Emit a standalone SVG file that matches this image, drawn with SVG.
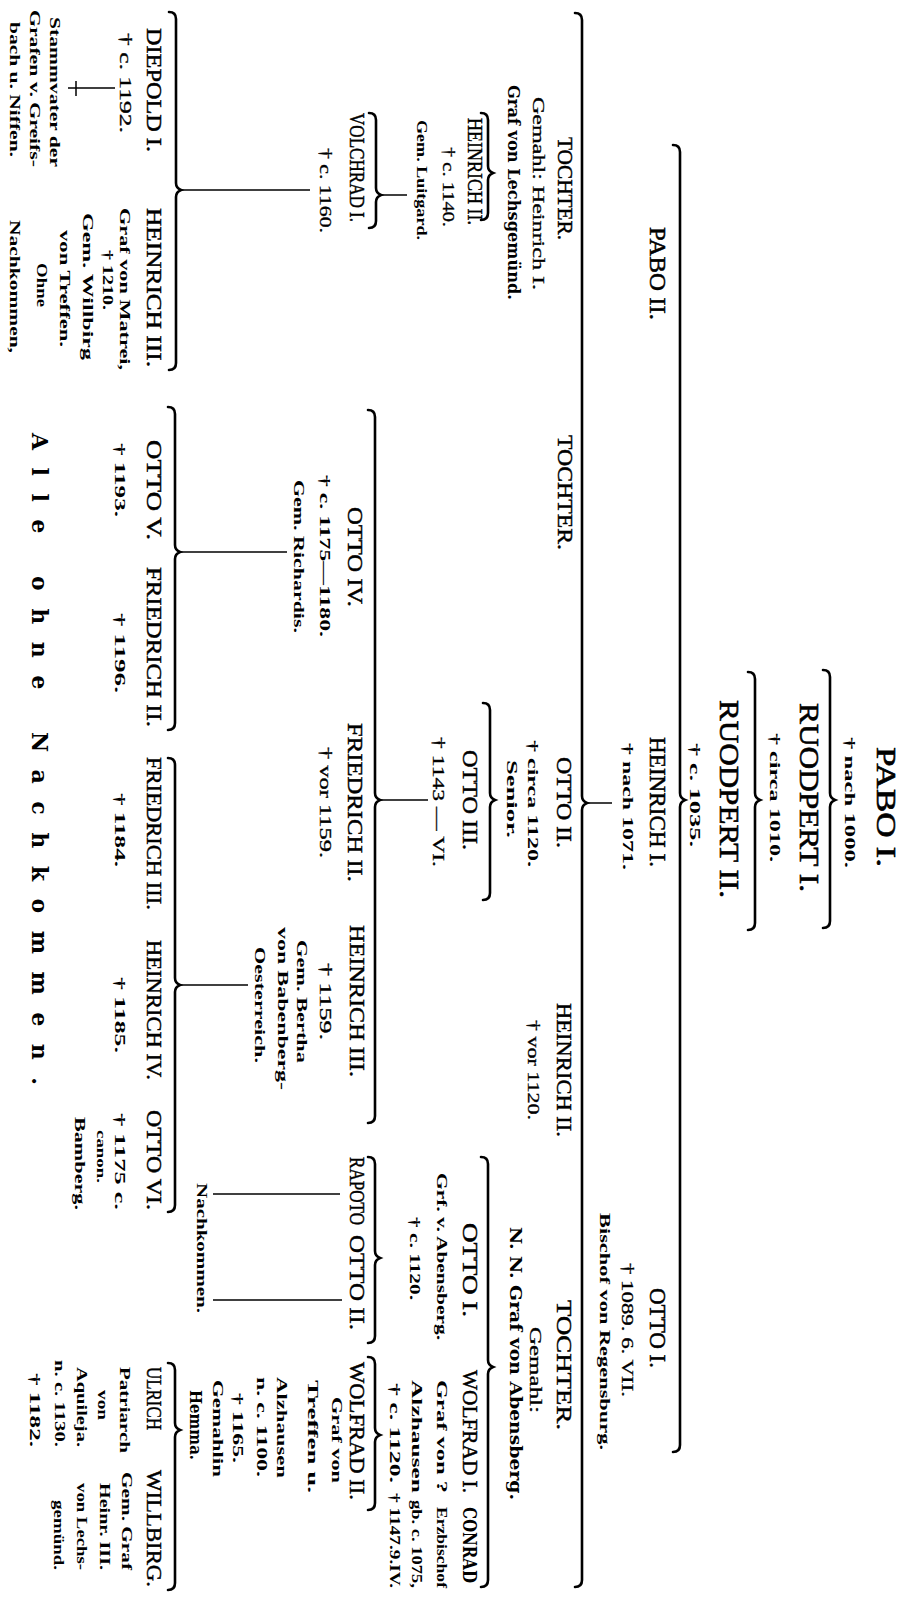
<svg xmlns="http://www.w3.org/2000/svg" width="904" height="1601" viewBox="0 0 904 1601">
<style>
text{font-family:"Liberation Serif","Times New Roman",serif;fill:#000;}
.n1{font-size:28px;stroke:#000;stroke-width:0.6;}
.n4{font-size:24px;stroke:#000;stroke-width:0.5;}
.n{font-size:21px;stroke:#000;stroke-width:0.45;}
.d{font-size:16px;stroke:#000;stroke-width:0.3;}
.b{font-size:15px;font-weight:bold;}
.h{font-size:16px;font-weight:900;font-family:"DejaVu Serif","Liberation Serif",serif;}
.s{font-size:12px;font-weight:bold;}
.alle{font-size:22px;font-weight:900;font-family:"DejaVu Serif","Liberation Serif",serif;}
.br{fill:none;stroke:#000;stroke-width:2.6;stroke-linecap:round;}
.ln{fill:none;stroke:#000;stroke-width:1.5;}
</style>
<rect width="904" height="1601" fill="#fff"/>
<g transform="translate(904,0) rotate(90)">
<g id="connectors">
<path class="br" d="M670,81 Q670,74 677,74 L793,74 Q798,74 800,69 Q802,74 807,74 L921,74 Q928,74 928,81"/>
<path class="br" d="M672,156 Q672,149 679,149 L793,149 Q798,149 800,144 Q802,149 807,149 L923,149 Q930,149 930,156"/>
<path class="br" d="M145,231 Q145,224 152,224 L793,224 Q798,224 800,219 Q802,224 807,224 L1445,224 Q1452,224 1452,231"/>
<path class="br" d="M13,329 Q13,322 20,322 L796,322 Q801,322 803,317 Q805,322 810,322 L1580,322 Q1587,322 1587,329"/>
<path class="br" d="M113,423 Q113,416 120,416 L166,416 Q171,416 173,411 Q175,416 180,416 L213,416 Q220,416 220,423"/>
<path class="br" d="M113,535 Q113,528 120,528 L188,528 Q193,528 195,523 Q197,528 202,528 L221,528 Q228,528 228,535"/>
<path class="br" d="M12,735 Q12,728 19,728 L183,728 Q188,728 190,723 Q192,728 197,728 L363,728 Q370,728 370,735"/>
<path class="br" d="M703,421 Q703,414 710,414 L793,414 Q798,414 800,409 Q802,414 807,414 L893,414 Q900,414 900,421"/>
<path class="br" d="M410,536 Q410,529 417,529 L793,529 Q798,529 800,524 Q802,529 807,529 L1116,529 Q1123,529 1123,536"/>
<path class="br" d="M407,736 Q407,729 414,729 L545,729 Q550,729 552,724 Q554,729 559,729 L723,729 Q730,729 730,736"/>
<path class="br" d="M758,736 Q758,729 765,729 L978,729 Q983,729 985,724 Q987,729 992,729 L1205,729 Q1212,729 1212,736"/>
<path class="br" d="M1157,423 Q1157,416 1164,416 L1360,416 Q1365,416 1367,411 Q1369,416 1374,416 L1580,416 Q1587,416 1587,423"/>
<path class="br" d="M1157,536 Q1157,529 1164,529 L1251,529 Q1256,529 1258,524 Q1260,529 1265,529 L1336,529 Q1343,529 1343,536"/>
<path class="br" d="M1357,536 Q1357,529 1364,529 L1428,529 Q1433,529 1435,524 Q1437,529 1442,529 L1503,529 Q1510,529 1510,536"/>
<path class="br" d="M1363,736 Q1363,729 1370,729 L1423,729 Q1428,729 1430,724 Q1432,729 1437,729 L1583,729 Q1590,729 1590,736"/>
<path class="ln" d="M803,292 V317"/>
<path class="ln" d="M195,497 V523"/>
<path class="ln" d="M190,594 V723"/>
<path class="ln" d="M88,789 V836 M81,828 H96"/>
<path class="ln" d="M800,476 V524"/>
<path class="ln" d="M552,617 V724"/>
<path class="ln" d="M985,656 V724"/>
<path class="ln" d="M1194,564 V691"/>
<path class="ln" d="M1300,562 V691"/>
</g>
<g id="pabo1"><text class="n1" x="747" y="27" textLength="120" lengthAdjust="spacingAndGlyphs">PABO I.</text><text class="b" x="737" y="59" textLength="131" lengthAdjust="spacingAndGlyphs">† nach 1000.</text></g>
<g id="ruodpert1"><text class="n1" x="703" y="104" textLength="189" lengthAdjust="spacingAndGlyphs">RUODPERT I.</text><text class="b" x="733" y="134" textLength="129" lengthAdjust="spacingAndGlyphs">† circa 1010.</text></g>
<g id="ruodpert2"><text class="n1" x="700" y="184" textLength="198" lengthAdjust="spacingAndGlyphs">RUODPERT II.</text><text class="b" x="743" y="214" textLength="104" lengthAdjust="spacingAndGlyphs">† c. 1035.</text></g>
<g id="pabo2"><text class="n4" x="227" y="254" textLength="93" lengthAdjust="spacingAndGlyphs">PABO II.</text></g>
<g id="heinrich1"><text class="n4" x="737" y="254" textLength="130" lengthAdjust="spacingAndGlyphs">HEINRICH I.</text><text class="b" x="743" y="281" textLength="127" lengthAdjust="spacingAndGlyphs">† nach 1071.</text></g>
<g id="otto1-bischof"><text class="n4" x="1288" y="254" textLength="80" lengthAdjust="spacingAndGlyphs">OTTO I.</text><text class="d" x="1263" y="282" textLength="134" lengthAdjust="spacingAndGlyphs">† 1089. 6. VII.</text><text class="b" x="1213" y="304" textLength="237" lengthAdjust="spacingAndGlyphs">Bischof von Regensburg.</text></g>
<g id="tochter-lechsgemuend"><text class="n" x="137" y="346" textLength="103" lengthAdjust="spacingAndGlyphs">TOCHTER.</text><text class="d" x="97" y="371" textLength="193" lengthAdjust="spacingAndGlyphs">Gemahl: Heinrich I.</text><text class="h" x="85" y="396" textLength="215" lengthAdjust="spacingAndGlyphs">Graf von Lechsgemünd.</text></g>
<g id="tochter2"><text class="n" x="435" y="346" textLength="115" lengthAdjust="spacingAndGlyphs">TOCHTER.</text></g>
<g id="otto2"><text class="n" x="757" y="347" textLength="91" lengthAdjust="spacingAndGlyphs">OTTO II.</text><text class="b" x="740" y="376" textLength="127" lengthAdjust="spacingAndGlyphs">† circa 1120.</text><text class="b" x="760" y="397" textLength="78" lengthAdjust="spacingAndGlyphs">Senior.</text></g>
<g id="heinrich2"><text class="n" x="1003" y="347" textLength="134" lengthAdjust="spacingAndGlyphs">HEINRICH II.</text><text class="d" x="1020" y="376" textLength="100" lengthAdjust="spacingAndGlyphs">† vor 1120.</text></g>
<g id="tochter-abensberg"><text class="n" x="1300" y="347" textLength="130" lengthAdjust="spacingAndGlyphs">TOCHTER.</text><text class="d" x="1327" y="374" textLength="86" lengthAdjust="spacingAndGlyphs">Gemahl:</text><text class="h" x="1227" y="394" textLength="273" lengthAdjust="spacingAndGlyphs">N. N. Graf von Abensberg.</text></g>
<g id="heinrich2b"><text class="n" x="118" y="436" textLength="107" lengthAdjust="spacingAndGlyphs">HEINRICH II.</text><text class="d" x="147" y="461" textLength="80" lengthAdjust="spacingAndGlyphs">† c. 1140.</text><text class="b" x="120" y="487" textLength="120" lengthAdjust="spacingAndGlyphs">Gem. Luitgard.</text></g>
<g id="otto3"><text class="n" x="750" y="441" textLength="100" lengthAdjust="spacingAndGlyphs">OTTO III.</text><text class="d" x="737" y="471" textLength="130" lengthAdjust="spacingAndGlyphs">† 1143 — VI.</text></g>
<g id="otto1-abensberg"><text class="n" x="1223" y="441" textLength="94" lengthAdjust="spacingAndGlyphs">OTTO I.</text><text class="b" x="1173" y="467" textLength="167" lengthAdjust="spacingAndGlyphs">Grf. v. Abensberg.</text><text class="b" x="1217" y="494" textLength="83" lengthAdjust="spacingAndGlyphs">† c. 1120.</text></g>
<g id="wolfrad1"><text class="n" x="1370" y="441" textLength="123" lengthAdjust="spacingAndGlyphs">WOLFRAD I.</text><text class="b" x="1380" y="467" textLength="113" lengthAdjust="spacingAndGlyphs">Graf von ?</text><text class="b" x="1380" y="492" textLength="113" lengthAdjust="spacingAndGlyphs">Alzhausen</text><text class="b" x="1383" y="514" textLength="100" lengthAdjust="spacingAndGlyphs">† c. 1120.</text></g>
<g id="conrad"><text class="h" x="1507" y="441" textLength="76" lengthAdjust="spacingAndGlyphs" style="font-size:19px">CONRAD</text><text class="b" x="1507" y="467" textLength="81" lengthAdjust="spacingAndGlyphs">Erzbischof</text><text class="b" x="1500" y="492" textLength="88" lengthAdjust="spacingAndGlyphs">gb. c. 1075,</text><text class="b" x="1493" y="514" textLength="95" lengthAdjust="spacingAndGlyphs">† 1147.9.IV.</text></g>
<g id="volchrad1"><text class="n" x="113" y="554" textLength="109" lengthAdjust="spacingAndGlyphs">VOLCHRAD I.</text><text class="d" x="148" y="584" textLength="85" lengthAdjust="spacingAndGlyphs">† c. 1160.</text></g>
<g id="otto4"><text class="n" x="507" y="556" textLength="100" lengthAdjust="spacingAndGlyphs">OTTO IV.</text><text class="b" x="475" y="584" textLength="162" lengthAdjust="spacingAndGlyphs">† c. 1175—1180.</text><text class="b" x="480" y="610" textLength="153" lengthAdjust="spacingAndGlyphs">Gem. Richardis.</text></g>
<g id="friedrich2"><text class="n" x="723" y="556" textLength="159" lengthAdjust="spacingAndGlyphs">FRIEDRICH II.</text><text class="d" x="747" y="584" textLength="111" lengthAdjust="spacingAndGlyphs">† vor 1159.</text></g>
<g id="heinrich3"><text class="n" x="925" y="554" textLength="152" lengthAdjust="spacingAndGlyphs">HEINRICH III.</text><text class="d" x="963" y="584" textLength="77" lengthAdjust="spacingAndGlyphs">† 1159.</text><text class="b" x="940" y="607" textLength="123" lengthAdjust="spacingAndGlyphs">Gem. Bertha</text><text class="b" x="927" y="626" textLength="163" lengthAdjust="spacingAndGlyphs">von Babenberg-</text><text class="b" x="947" y="649" textLength="116" lengthAdjust="spacingAndGlyphs">Oesterreich.</text></g>
<g id="rapoto"><text class="n" x="1157" y="554" textLength="68" lengthAdjust="spacingAndGlyphs">RAPOTO</text></g>
<g id="otto2-abensberg"><text class="n" x="1235" y="554" textLength="95" lengthAdjust="spacingAndGlyphs">OTTO II.</text></g>
<g id="nachkommen"><text class="b" x="1183" y="707" textLength="130" lengthAdjust="spacingAndGlyphs">Nachkommen.</text></g>
<g id="wolfrad2"><text class="n" x="1362" y="554" textLength="138" lengthAdjust="spacingAndGlyphs">WOLFRAD II.</text><text class="b" x="1397" y="572" textLength="86" lengthAdjust="spacingAndGlyphs">Graf von</text><text class="b" x="1380" y="596" textLength="113" lengthAdjust="spacingAndGlyphs">Treffen u.</text><text class="b" x="1377" y="627" textLength="101" lengthAdjust="spacingAndGlyphs">Alzhausen</text><text class="b" x="1377" y="647" textLength="100" lengthAdjust="spacingAndGlyphs">n. c. 1100.</text><text class="b" x="1393" y="671" textLength="70" lengthAdjust="spacingAndGlyphs">† 1165.</text><text class="b" x="1380" y="691" textLength="97" lengthAdjust="spacingAndGlyphs">Gemahlin</text><text class="h" x="1390" y="714" textLength="70" lengthAdjust="spacingAndGlyphs">Hemma.</text></g>
<g id="diepold1"><text class="n" x="28" y="757" textLength="124" lengthAdjust="spacingAndGlyphs">DIEPOLD I.</text><text class="d" x="33" y="784" textLength="100" lengthAdjust="spacingAndGlyphs">† c. 1192.</text><text class="b" x="17" y="854" textLength="150" lengthAdjust="spacingAndGlyphs">Stammvater der</text><text class="b" x="10" y="874" textLength="157" lengthAdjust="spacingAndGlyphs">Grafen v. Greifs-</text><text class="b" x="22" y="894" textLength="135" lengthAdjust="spacingAndGlyphs">bach u. Niffen.</text></g>
<g id="heinrich3-matrei"><text class="n" x="208" y="757" textLength="159" lengthAdjust="spacingAndGlyphs">HEINRICH III.</text><text class="b" x="208" y="784" textLength="162" lengthAdjust="spacingAndGlyphs">Graf von Matrei,</text><text class="b" x="250" y="801" textLength="60" lengthAdjust="spacingAndGlyphs">† 1210.</text><text class="b" x="213" y="821" textLength="147" lengthAdjust="spacingAndGlyphs">Gem. Willbirg</text><text class="b" x="230" y="844" textLength="117" lengthAdjust="spacingAndGlyphs">von Treffen.</text><text class="b" x="263" y="867" textLength="44" lengthAdjust="spacingAndGlyphs">Ohne</text><text class="b" x="220" y="894" textLength="133" lengthAdjust="spacingAndGlyphs">Nachkommen,</text></g>
<g id="otto5"><text class="n" x="440" y="757" textLength="100" lengthAdjust="spacingAndGlyphs">OTTO V.</text><text class="b" x="443" y="789" textLength="74" lengthAdjust="spacingAndGlyphs">† 1193.</text></g>
<g id="friedrich2b"><text class="n" x="567" y="757" textLength="160" lengthAdjust="spacingAndGlyphs">FRIEDRICH II.</text><text class="b" x="613" y="789" textLength="80" lengthAdjust="spacingAndGlyphs">† 1196.</text></g>
<g id="friedrich3"><text class="n" x="757" y="757" textLength="153" lengthAdjust="spacingAndGlyphs">FRIEDRICH III.</text><text class="b" x="793" y="789" textLength="74" lengthAdjust="spacingAndGlyphs">† 1184.</text></g>
<g id="heinrich4"><text class="n" x="940" y="757" textLength="140" lengthAdjust="spacingAndGlyphs">HEINRICH IV.</text><text class="b" x="977" y="789" textLength="76" lengthAdjust="spacingAndGlyphs">† 1185.</text></g>
<g id="otto6"><text class="n" x="1110" y="757" textLength="100" lengthAdjust="spacingAndGlyphs">OTTO VI.</text><text class="b" x="1113" y="789" textLength="97" lengthAdjust="spacingAndGlyphs">† 1175 c.</text><text class="s" x="1130" y="807" textLength="53" lengthAdjust="spacingAndGlyphs">canon.</text><text class="b" x="1117" y="829" textLength="93" lengthAdjust="spacingAndGlyphs">Bamberg.</text></g>
<g id="ulrich"><text class="n" x="1367" y="757" textLength="63" lengthAdjust="spacingAndGlyphs">ULRICH</text><text class="b" x="1367" y="784" textLength="86" lengthAdjust="spacingAndGlyphs">Patriarch</text><text class="b" x="1390" y="806" textLength="30" lengthAdjust="spacingAndGlyphs">von</text><text class="b" x="1367" y="827" textLength="80" lengthAdjust="spacingAndGlyphs">Aquileja.</text><text class="b" x="1360" y="849" textLength="87" lengthAdjust="spacingAndGlyphs">n. c. 1130.</text><text class="b" x="1373" y="874" textLength="74" lengthAdjust="spacingAndGlyphs">† 1182.</text></g>
<g id="willbirg"><text class="n" x="1470" y="757" textLength="117" lengthAdjust="spacingAndGlyphs">WILLBIRG.</text><text class="b" x="1472" y="782" textLength="98" lengthAdjust="spacingAndGlyphs">Gem. Graf</text><text class="b" x="1483" y="804" textLength="87" lengthAdjust="spacingAndGlyphs">Heinr. III.</text><text class="b" x="1483" y="827" textLength="87" lengthAdjust="spacingAndGlyphs">von Lechs-</text><text class="b" x="1500" y="850" textLength="70" lengthAdjust="spacingAndGlyphs">gemünd.</text></g>
<g id="alle"><text class="alle" x="433" y="872" textLength="652" lengthAdjust="spacing">Alle ohne Nachkommen.</text></g>
</g>
</svg>
